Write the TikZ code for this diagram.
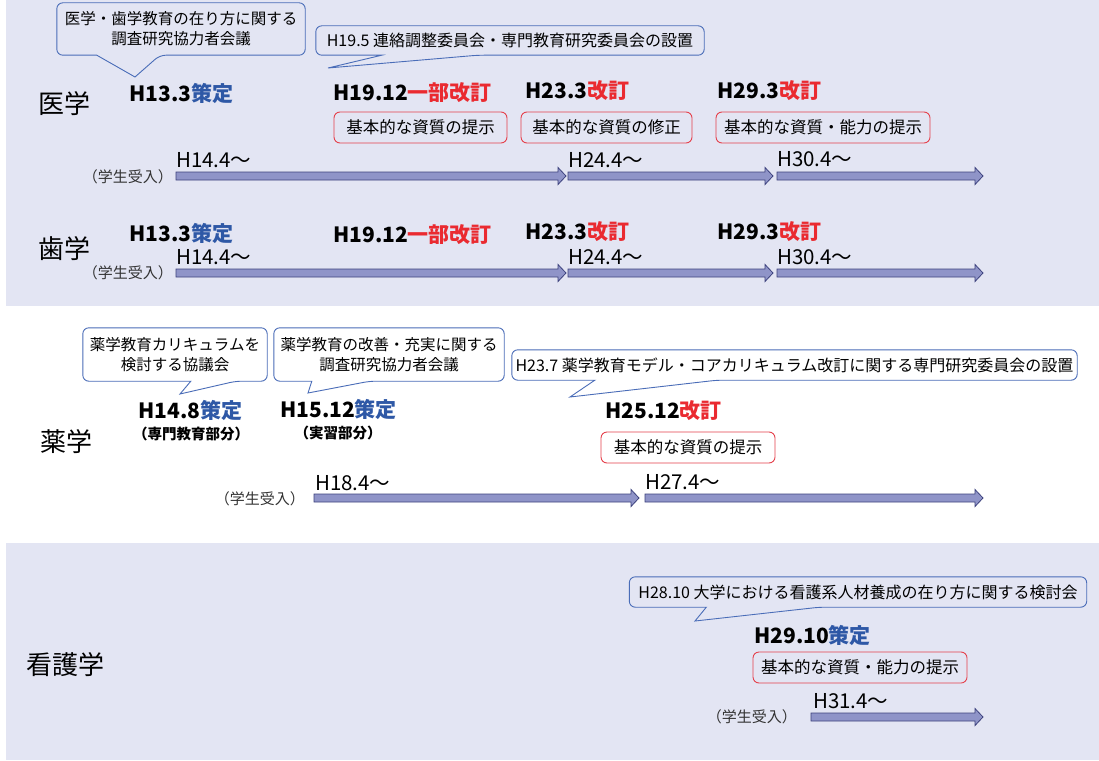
\documentclass[tikz,border=0pt]{standalone}
\usepackage{fontspec}
\setmainfont{Noto Sans CJK JP}
\definecolor{panelbg}{HTML}{E3E5F3}
\definecolor{callblue}{HTML}{4A6DB8}
\definecolor{boxred}{HTML}{E5404B}
\definecolor{decideblue}{HTML}{2E58A6}
\definecolor{revisered}{HTML}{EA2A30}
\definecolor{arrowfill}{HTML}{8F94C8}
\definecolor{arrowedge}{HTML}{3E437E}
\definecolor{intakegray}{HTML}{333333}
\begin{document}
\begin{tikzpicture}[x=1pt,y=-1pt,
  callout/.style={align=center, inner sep=0pt, font=\fontsize{15.5}{20}\selectfont},
  oneline/.style={font=\fontsize{16}{20}\selectfont},
  callline/.style={draw=callblue, line width=0.9pt, rounded corners=6pt},
  redbox/.style={draw=boxred, line width=0.9pt, rounded corners=6pt, inner sep=0pt,
    minimum height=31pt, font=\fontsize{16.5}{20}\selectfont},
  yearhead/.style={anchor=west, inner sep=0pt, font=\fontsize{21}{24}\selectfont\bfseries},
  partnote/.style={inner sep=0pt, font=\fontsize{14.5}{16}\selectfont\bfseries},
  fieldlabel/.style={anchor=west, inner sep=0pt, font=\fontsize{26}{30}\selectfont},
  since/.style={anchor=base west, inner sep=0pt, font=\fontsize{20.5}{24}\selectfont},
  intake/.style={anchor=east, inner sep=0pt, text=intakegray, font=\fontsize{15}{16}\selectfont},
  bararrow/.style={draw=arrowedge, fill=arrowfill, line width=0.8pt}
]
   \newcommand{\barArrow}[3]{
        \draw[bararrow] (#1,#3-4) -- (#2-8,#3-4) -- (#2-8,#3-8.5) -- (#2,#3)
          -- (#2-8,#3+8.5) -- (#2-8,#3+4) -- (#1,#3+4) -- cycle;
    }
    \newcommand{\calloutFrame}[4]{
        \draw[callline] (#1.south west) -- (#1.north west) -- (#1.north east) -- (#1.south east)
          -- ([xshift=#3]#1.south west) [sharp corners] -- (#4)
          -- ([xshift=#2]#1.south west) [rounded corners=6pt] -- cycle;
    }
  \useasboundingbox (0,0) rectangle (1099,760);
  \fill[white] (0,0) rectangle (1099,760);
  \fill[panelbg] (6,0) rectangle (1099,306);
  \fill[panelbg] (6,543) rectangle (1099,760);

  % 医学 / 歯学
  \node[callout, minimum width=248pt, minimum height=52pt] (cMed) at (181,29)
    {医学・歯学教育の在り方に関する\\調査研究協力者会議};
  \calloutFrame{cMed}{40}{103}{135,77}
  \node[callout, oneline, minimum width=388pt, minimum height=29pt] (cRenraku) at (510,40.5)
    {H19.5 連絡調整委員会・専門教育研究委員会の設置};
  \calloutFrame{cRenraku}{66}{162}{328,68}

  \node[fieldlabel] (med) at (38,104) {医学};
  \node[yearhead] (med1) at (129,93) {H13.3\textcolor{decideblue}{策定}};
  \node[yearhead] (med2) at (333,93) {H19.12\textcolor{revisered}{一部改訂}};
  \node[yearhead] (med3) at (525,91) {H23.3\textcolor{revisered}{改訂}};
  \node[yearhead] (med4) at (717,91) {H29.3\textcolor{revisered}{改訂}};
  \node[redbox, minimum width=173pt] (medBox2) at (420.5,127.5) {基本的な資質の提示};
  \node[redbox, minimum width=171pt] (medBox3) at (606.5,127.5) {基本的な資質の修正};
  \node[redbox, minimum width=214pt] (medBox4) at (823,127.5) {基本的な資質・能力の提示};
  \node[since] (medS1) at (176,167) {H14.4〜};
  \node[since] (medS2) at (568,167) {H24.4〜};
  \node[since] (medS3) at (777,166) {H30.4〜};
  \node[intake] (medIn) at (173,177) {（学生受入）};
  \barArrow{176}{566}{176}
  \barArrow{568}{773}{176}
  \barArrow{777}{983}{176}

  \node[fieldlabel] (dent) at (38,249) {歯学};
  \node[yearhead] (dent1) at (129,233) {H13.3\textcolor{decideblue}{策定}};
  \node[yearhead] (dent2) at (333,235) {H19.12\textcolor{revisered}{一部改訂}};
  \node[yearhead] (dent3) at (525,232) {H23.3\textcolor{revisered}{改訂}};
  \node[yearhead] (dent4) at (717,232) {H29.3\textcolor{revisered}{改訂}};
  \node[since] (dentS1) at (176,264) {H14.4〜};
  \node[since] (dentS2) at (568,264) {H24.4〜};
  \node[since] (dentS3) at (777,264) {H30.4〜};
  \node[intake] (dentIn) at (173,273) {（学生受入）};
  \barArrow{176}{566}{273}
  \barArrow{568}{773}{273}
  \barArrow{777}{983}{273}

  % 薬学
  \node[callout, minimum width=184pt, minimum height=53pt] (cPharm1) at (175,354.5)
    {薬学教育カリキュラムを\\検討する協議会};
  \calloutFrame{cPharm1}{108}{153}{180,394}
  \node[callout, minimum width=230pt, minimum height=53pt] (cPharm2) at (389,354.5)
    {薬学教育の改善・充実に関する\\調査研究協力者会議};
  \calloutFrame{cPharm2}{38}{96}{308,393}
  \node[callout, oneline, minimum width=565pt, minimum height=30pt] (cPharm3) at (794.5,365)
    {H23.7 薬学教育モデル・コアカリキュラム改訂に関する専門研究委員会の設置};
  \calloutFrame{cPharm3}{83}{205}{570,397}

  \node[fieldlabel] (pharm) at (40,442) {薬学};
  \node[yearhead] (pharm1) at (138,410) {H14.8\textcolor{decideblue}{策定}};
  \node[partnote] (pharm1n) at (191,434) {（専門教育部分）};
  \node[yearhead] (pharm2) at (280,409) {H15.12\textcolor{decideblue}{策定}};
  \node[partnote] (pharm2n) at (338,433) {（実習部分）};
  \node[yearhead] (pharm3) at (605,411) {H25.12\textcolor{revisered}{改訂}};
  \node[redbox, minimum width=174pt] (pharmBox) at (688,447.5) {基本的な資質の提示};
  \node[since] (pharmS1) at (315,490) {H18.4〜};
  \node[since] (pharmS2) at (645,489) {H27.4〜};
  \node[intake] (pharmIn) at (305,499) {（学生受入）};
  \barArrow{314}{639}{498}
  \barArrow{645}{983}{498}

  % 看護学
  \node[callout, oneline, minimum width=457pt, minimum height=30pt] (cNurse) at (858,592)
    {H28.10 大学における看護系人材養成の在り方に関する検討会};
  \calloutFrame{cNurse}{77}{190}{695,621}
  \node[fieldlabel] (nurse) at (26,665) {看護学};
  \node[yearhead] (nurse1) at (754,635) {H29.10\textcolor{decideblue}{策定}};
  \node[redbox, minimum width=214pt] (nurseBox) at (860,667.5) {基本的な資質・能力の提示};
  \node[since] (nurseS1) at (813,708) {H31.4〜};
  \node[intake] (nurseIn) at (797,717) {（学生受入）};
  \barArrow{811}{983}{717}

\end{tikzpicture}
\end{document}
